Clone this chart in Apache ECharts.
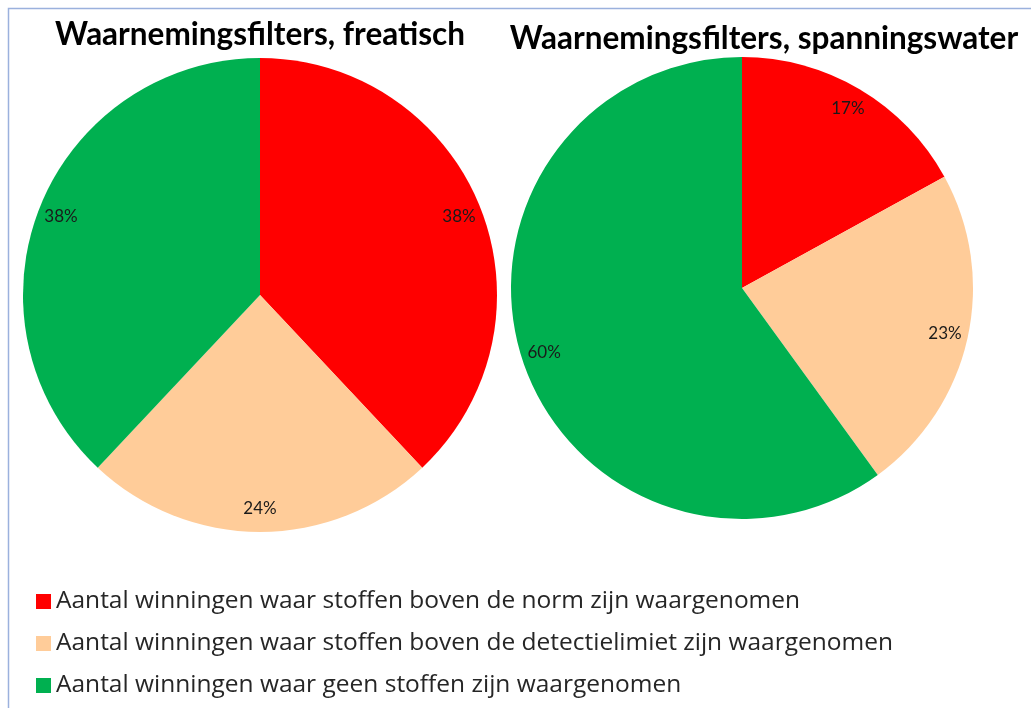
<!DOCTYPE html>
<html lang="nl">
<head>
    <meta charset="UTF-8">
    <title>Waarnemingsfilters</title>
    <script src="https://cdn.jsdelivr.net/npm/echarts@6/dist/echarts.min.js"></script>
    <style>
        html, body {margin: 0; padding: 0; background: #fff;}
    </style>
</head>
<body>
<div id="main" style="width: 1031px;height:708px;"></div>
<script type="text/javascript">
    var categories = [
        'Aantal winningen waar stoffen boven de norm zijn waargenomen',
        'Aantal winningen waar stoffen boven de detectielimiet zijn waargenomen',
        'Aantal winningen waar geen stoffen zijn waargenomen'
    ];
    var titles = ['Waarnemingsfilters, freatisch', 'Waarnemingsfilters, spanningswater'];
    var freatisch = [38, 24, 38];
    var spanningswater = [17, 23, 60];
    var colors = ['#FF0000', '#FFCC99', '#00B050'];

    var chart = echarts.init(document.getElementById('main'));

    function toData(values) {
        return categories.map(function (name, i) {
            return {name: name, value: values[i]};
        });
    }

    // full pie + a transparent ring on top that only carries the labels near the rim
    function pieSeries(values, center, radius) {
        return [
            {
                type: 'pie',
                center: center,
                radius: radius,
                startAngle: 90,
                label: {show: false},
                labelLine: {show: false},
                emphasis: {disabled: true},
                data: toData(values)
            },
            {
                type: 'pie',
                center: center,
                radius: [radius - 62, radius + 10],
                startAngle: 90,
                silent: true,
                itemStyle: {color: 'transparent'},
                label: {
                    show: true,
                    position: 'inside',
                    formatter: '{c}%',
                    fontFamily: 'Lato',
                    fontSize: 17,
                    color: '#1a1a1a'
                },
                labelLine: {show: false},
                emphasis: {disabled: true},
                legendHoverLink: false,
                data: toData(values)
            }
        ];
    }

    var option = {
        color: colors,
        animation: false,
        graphic: [{
            type: 'rect',
            shape: {x: 8.5, y: 8.5, width: 1100, height: 1000},
            style: {fill: 'none', stroke: '#9BB1DD', lineWidth: 1.5}
        }],
        title: [
            {
                text: titles[0],
                left: 255,
                top: 14,
                textAlign: 'center',
                textStyle: {fontFamily: 'Lato', fontWeight: 'bold', fontSize: 31.5, color: '#000'}
            },
            {
                text: titles[1],
                left: 759,
                top: 18,
                textAlign: 'center',
                textStyle: {fontFamily: 'Lato', fontWeight: 'bold', fontSize: 31.5, color: '#000'}
            }
        ],
        legend: {
            orient: 'vertical',
            left: 31,
            top: 584,
            icon: 'rect',
            itemWidth: 15,
            itemHeight: 15,
            itemGap: 17,
            itemStyle: {borderWidth: 0},
            selectedMode: false,
            data: categories,
            textStyle: {fontFamily: 'Open Sans', fontSize: 24.5, color: '#262626'}
        },
        series: pieSeries(freatisch, [260, 295], 237).concat(pieSeries(spanningswater, [742, 288], 231))
    };

    chart.setOption(option);
</script>
</body>
</html>
